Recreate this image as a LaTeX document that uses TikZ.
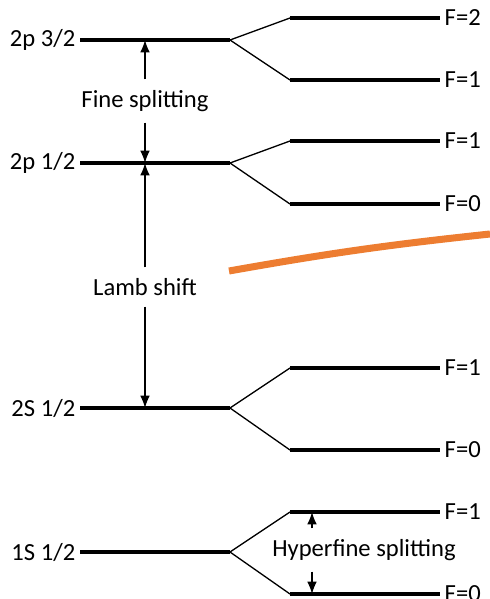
\documentclass[tikz,border=0pt]{standalone}
\usepackage{fontspec}
\setmainfont{Carlito}
\usepackage{tikz}
\usetikzlibrary{arrows.meta}

\begin{document}
\begin{tikzpicture}[x=0.02cm,y=-0.02cm,
  level/.style={line width=2pt},
  split/.style={line width=0.75pt},
  arr/.style={line width=0.75pt,-{Latex[length=7pt,width=5.5pt]}},
  lbl/.style={font=\fontsize{14}{16}\selectfont,inner sep=2.5pt},
  lamb/.style={line width=4pt,color={rgb,255:red,237;green,125;blue,49}}]
\useasboundingbox (0,0) rectangle (490,599);
% 2p 3/2
\draw[level] (80,40) coordinate (p32l) -- (230,40) coordinate (p32r);
\node[lbl,left] (p32t) at (p32l) {2p 3/2};
\draw[split] (p32r) -- (290,18) coordinate (p32a);
\draw[split] (p32r) -- (290,80) coordinate (p32b);
\draw[level] (p32a) -- (440,18) coordinate (p32ae);
\draw[level] (p32b) -- (440,80) coordinate (p32be);
\node[lbl,right] (p32at) at (p32ae) {F=2};
\node[lbl,right] (p32bt) at (p32be) {F=1};
% 2p 1/2
\draw[level] (80,163) coordinate (p12l) -- (230,163) coordinate (p12r);
\node[lbl,left] (p12t) at (p12l) {2p 1/2};
\draw[split] (p12r) -- (290,141) coordinate (p12a);
\draw[split] (p12r) -- (290,204) coordinate (p12b);
\draw[level] (p12a) -- (440,141) coordinate (p12ae);
\draw[level] (p12b) -- (440,204) coordinate (p12be);
\node[lbl,right] (p12at) at (p12ae) {F=1};
\node[lbl,right] (p12bt) at (p12be) {F=0};
% 2S 1/2
\draw[level] (80,408) coordinate (s2l) -- (230,408) coordinate (s2r);
\node[lbl,left] (s2t) at (s2l) {2S 1/2};
\draw[split] (s2r) -- (290,368) coordinate (s2a);
\draw[split] (s2r) -- (290,450) coordinate (s2b);
\draw[level] (s2a) -- (440,368) coordinate (s2ae);
\draw[level] (s2b) -- (440,450) coordinate (s2be);
\node[lbl,right] (s2at) at (s2ae) {F=1};
\node[lbl,right] (s2bt) at (s2be) {F=0};
% 1S 1/2
\draw[level] (80,552) coordinate (s1l) -- (230,552) coordinate (s1r);
\node[lbl,left] (s1t) at (s1l) {1S 1/2};
\draw[split] (s1r) -- (290,512) coordinate (s1a);
\draw[split] (s1r) -- (290,594) coordinate (s1b);
\draw[level] (s1a) -- (440,512) coordinate (s1ae);
\draw[level] (s1b) -- (440,594) coordinate (s1be);
\node[lbl,right] (s1at) at (s1ae) {F=1};
\node[lbl,right] (s1bt) at (s1be) {F=0};
% splittings
\coordinate (fsa) at (145,40);
\coordinate (fsb) at (145,163);
\coordinate (lsb) at (145,408);
\coordinate (hfa) at (312,512);
\coordinate (hfb) at (312,594);
\node[lbl,inner sep=6pt] (fine) at (145,101) {Fine splitting};
\draw[arr] (fine.north) -- (fsa);
\draw[arr] (fine.south) -- (fsb);
\node[lbl,inner sep=6pt] (lambt) at (145,287) {Lamb shift};
\draw[arr] (lambt.north) -- (fsb);
\draw[arr] (lambt.south) -- (lsb);
\node[lbl,inner sep=6pt] (hf) at (364,550) {Hyperfine splitting};
\draw[arr] (hf.north -| hfa) -- (hfa);
\draw[arr] (hf.south -| hfb) -- (hfb);
% the orange line
\draw[lamb] (229,271) coordinate (oa) to[bend left=2] (490,234) coordinate (ob);
\end{tikzpicture}
\end{document}
